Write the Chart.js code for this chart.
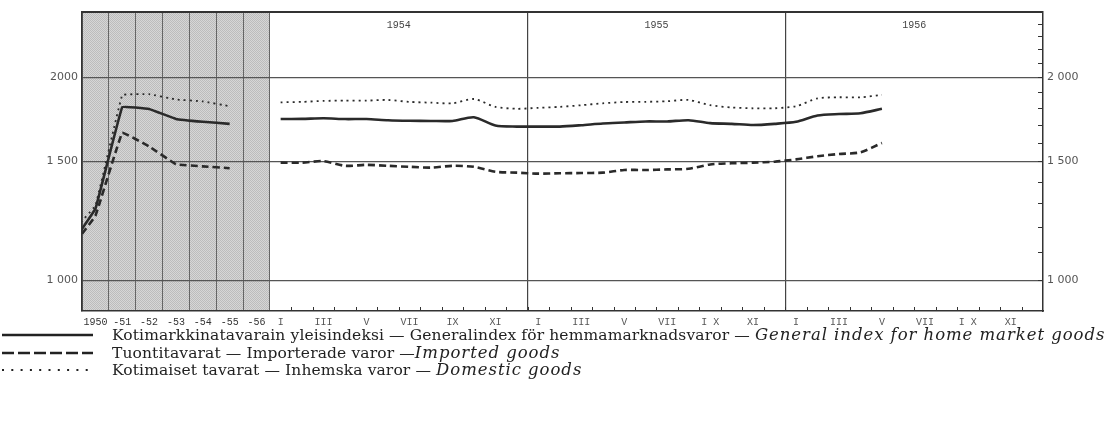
<!DOCTYPE html>
<html>
<head>
<meta charset="utf-8">
<script src="https://cdn.jsdelivr.net/npm/chart.js@4.4.0/dist/chart.umd.min.js"></script>
<style>
  body { margin: 0; background: #fff; width: 1110px; height: 425px; overflow: hidden; position: relative; }
  #wrap { position: absolute; left: 0; top: 0; width: 1110px; height: 330px; }
  #legend { position: absolute; left: 0; top: 0; font-family: "DejaVu Serif", serif; font-size: 15.5px; color: #222; }
  .row { position: absolute; left: 0; height: 18px; white-space: nowrap; }
  .row svg { position: absolute; left: 0; top: 4px; }
  .row span { position: absolute; left: 112px; top: 0; line-height: 18px; letter-spacing: 0.12px; }
  .row i { font-family: "DejaVu Serif", serif; font-size: 16.5px; letter-spacing: 0.95px; }
</style>
</head>
<body>
<div id="wrap"><canvas id="chart" width="1110" height="330"></canvas></div>
<div id="legend"></div>
<script>
// 年次データ（網掛け部分） 1949 の値は左端の線の始まりだけに使う
const annualLabels = ['1950', '-51', '-52', '-53', '-54', '-55', '-56'];
const annualYears = [1949, 1950, 1951, 1952, 1953, 1954, 1955];
const annualGeneral = [1115, 1276, 1807, 1795, 1735, 1718, 1706];
const annualImported = [1104, 1246, 1655, 1579, 1486, 1475, 1466];
const annualDomestic = [1165, 1290, 1882, 1888, 1854, 1842, 1812];

// 月次データ 1954 I – 1956 V
const yearLabels = ['1954', '1955', '1956'];
const monthTickLabels = [
  'I', '', 'III', '', 'V', '', 'VII', '', 'IX', '', 'XI', '',
  'I', '', 'III', '', 'V', '', 'VII', '', 'I X', '', 'XI', '',
  'I', '', 'III', '', 'V', '', 'VII', '', 'I X', '', 'XI', ''
];
const generalMonthly = [
  1734, 1735, 1739, 1734, 1734, 1727, 1724, 1723, 1723, 1745, 1696, 1690,
  1690, 1690, 1698, 1708, 1714, 1720, 1720, 1727, 1710, 1706, 1699, 1706,
  1718, 1755, 1764, 1769, 1796
];
const importedMonthly = [
  1494, 1494, 1502, 1478, 1483, 1478, 1473, 1469, 1478, 1473, 1448, 1444,
  1439, 1441, 1442, 1444, 1457, 1457, 1460, 1463, 1485, 1491, 1494, 1499,
  1511, 1527, 1539, 1548, 1598
];
const domesticMonthly = [
  1836, 1839, 1845, 1847, 1847, 1851, 1839, 1834, 1830, 1857, 1808, 1796,
  1802, 1808, 1818, 1830, 1838, 1839, 1843, 1851, 1818, 1804, 1799, 1799,
  1812, 1861, 1868, 1868, 1884
];

const yTickValues = [1000, 1500, 2000];
const leftTickLabels = ['1 000', '1 500', '2000'];
const rightTickLabels = ['1 000', '1 500', '2 000'];

const seriesFi = ['Kotimarkkinatavarain yleisindeksi', 'Tuontitavarat', 'Kotimaiset tavarat'];
const seriesSv = ['Generalindex för hemmamarknadsvaror', 'Importerade varor', 'Inhemska varor'];
const seriesEn = ['General index for home market goods', 'Imported goods', 'Domestic goods'];

// x 軸: 年次 1 列 = 1, 1 か月 = MONTH_W
const MONTH_W = 0.8;
const N_COLS = annualLabels.length;
const X_MAX = N_COLS + 36 * MONTH_W;
const xYear = y => (y - 1950) + 0.5;
const xMonth = i => N_COLS + (i + 0.5) * MONTH_W;

const INK = '#2a2a2a';
const styles = [
  { borderWidth: 2.6, borderDash: [] },
  { borderWidth: 2.6, borderDash: [7, 4] },
  { borderWidth: 1.8, borderDash: [2, 4] }
];

function annualSet(values, s) {
  return Object.assign({
    data: values.map((v, i) => ({ x: xYear(annualYears[i]), y: v })),
    borderColor: INK, pointRadius: 0, tension: 0.05, clip: 0, fill: false
  }, s);
}
function monthlySet(values, s) {
  return Object.assign({
    data: values.map((v, i) => ({ x: xMonth(i), y: v })),
    borderColor: INK, pointRadius: 0, tension: 0.25, clip: 0, fill: false
  }, s);
}

// x 軸の目盛り: 列の境界・ラベル位置
function buildXTicks() {
  const ticks = [];
  for (let i = 0; i <= N_COLS; i++) ticks.push({ value: i, kind: 'col' });
  annualLabels.forEach((t, i) => ticks.push({ value: i + 0.5, kind: 'lab', text: t }));
  for (let m = 1; m < 36; m++) {
    ticks.push({ value: N_COLS + m * MONTH_W, kind: m % 12 === 0 ? 'year' : 'month' });
  }
  monthTickLabels.forEach((t, m) => {
    if (t) ticks.push({ value: xMonth(m), kind: 'mlab', text: t });
  });
  ticks.sort((a, b) => a.value - b.value);
  return ticks;
}

const decor = {
  id: 'decor',
  beforeDraw(chart) {
    const { ctx, chartArea: a, scales } = chart;
    const x0 = scales.x.getPixelForValue(0);
    const x1 = scales.x.getPixelForValue(N_COLS);
    // 網掛け
    const pc = document.createElement('canvas');
    pc.width = 2; pc.height = 2;
    const p = pc.getContext('2d');
    p.fillStyle = '#d6d6d6'; p.fillRect(0, 0, 2, 2);
    p.fillStyle = '#bcbcbc'; p.fillRect(0, 0, 1, 1); p.fillRect(1, 1, 1, 1);
    ctx.save();
    ctx.fillStyle = ctx.createPattern(pc, 'repeat');
    ctx.fillRect(x0, a.top, x1 - x0, a.bottom - a.top);
    ctx.restore();
  },
  afterDraw(chart) {
    const { ctx, chartArea: a, scales } = chart;
    ctx.save();
    ctx.strokeStyle = '#333';
    // 上枠
    ctx.lineWidth = 2;
    ctx.beginPath(); ctx.moveTo(a.left, a.top); ctx.lineTo(a.right, a.top); ctx.stroke();
    // 月の目盛り（内向き）
    ctx.lineWidth = 1;
    for (let m = 1; m < 36; m++) {
      const px = Math.round(scales.x.getPixelForValue(N_COLS + m * MONTH_W)) + 0.5;
      ctx.beginPath(); ctx.moveTo(px, a.bottom); ctx.lineTo(px, a.bottom - 4); ctx.stroke();
    }
    // 右側の補助目盛り 100 ごと
    for (let v = 1000; v <= 2400; v += 100) {
      const py = Math.round(scales.y2.getPixelForValue(v)) + 0.5;
      ctx.beginPath(); ctx.moveTo(a.right, py); ctx.lineTo(a.right - 5, py); ctx.stroke();
    }
    // 年ラベル
    ctx.fillStyle = '#444';
    ctx.font = '10px "Liberation Mono", monospace';
    ctx.textAlign = 'center';
    ctx.textBaseline = 'middle';
    yearLabels.forEach((t, k) => {
      ctx.fillText(t, scales.x.getPixelForValue(N_COLS + (12 * k + 6) * MONTH_W), a.top + 13);
    });
    ctx.restore();
  }
};

const tickFont = { family: '"Liberation Mono", monospace', size: 10 };
const yFont = { family: '"DejaVu Sans", sans-serif', size: 11 };

new Chart(document.getElementById('chart'), {
  type: 'line',
  data: {
    datasets: [
      annualSet(annualGeneral, styles[0]),
      annualSet(annualImported, styles[1]),
      annualSet(annualDomestic, styles[2]),
      monthlySet(generalMonthly, styles[0]),
      monthlySet(importedMonthly, styles[1]),
      monthlySet(domesticMonthly, styles[2])
    ]
  },
  options: {
    responsive: false,
    animation: false,
    devicePixelRatio: 1,
    layout: { padding: { top: 12, left: 0, right: 0, bottom: 0 } },
    plugins: { legend: { display: false }, tooltip: { enabled: false } },
    scales: {
      x: {
        type: 'linear', min: 0, max: X_MAX,
        afterBuildTicks: s => { s.ticks = buildXTicks(); },
        afterFit: s => { s.height = 19; },
        ticks: {
          autoSkip: false, maxRotation: 0, padding: 5,
          color: c => (c.tick && c.tick.kind === 'mlab') ? '#555' : '#333',
          font: tickFont,
          callback: (v, i, ticks) => ticks[i].text || ''
        },
        grid: {
          drawTicks: false,
          color: c => {
            if (!c.tick) return 'rgba(0,0,0,0)';
            if (c.tick.kind === 'col') return '#666';
            if (c.tick.kind === 'year') return '#444';
            return 'rgba(0,0,0,0)';
          },
          lineWidth: c => (c.tick && c.tick.kind === 'year') ? 1.2 : 1
        },
        border: { display: true, color: '#333', width: 1.5 }
      },
      y: {
        type: 'logarithmic', position: 'left', min: 900, max: 2500,
        afterBuildTicks: s => { s.ticks = yTickValues.map(v => ({ value: v })); },
        afterFit: s => { s.width = 82; },
        ticks: {
          padding: 4, color: '#555', font: yFont,
          callback: (v, i) => leftTickLabels[i]
        },
        grid: { drawTicks: false, color: '#555', lineWidth: 1.2 },
        border: { display: true, color: '#333', width: 1.5 }
      },
      y2: {
        type: 'logarithmic', position: 'right', min: 900, max: 2500,
        afterBuildTicks: s => { s.ticks = yTickValues.map(v => ({ value: v })); },
        afterFit: s => { s.width = 67; },
        ticks: {
          padding: 4, color: '#555', font: yFont,
          callback: (v, i) => rightTickLabels[i]
        },
        grid: { drawOnChartArea: false, drawTicks: false },
        border: { display: true, color: '#333', width: 1.5 }
      }
    }
  },
  plugins: [decor]
});

// 凡例
const legendRows = [
  { top: 326, dash: '', width: 2.5, sep: ' — ' },
  { top: 343.5, dash: '12 4', width: 2.5, sep: ' —' },
  { top: 361, dash: '2 7.3', width: 2, sep: ' — ' }
];
const legend = document.getElementById('legend');
seriesFi.forEach((fi, i) => {
  const r = legendRows[i];
  const row = document.createElement('div');
  row.className = 'row';
  row.style.top = r.top + 'px';
  row.innerHTML =
    `<svg width="96" height="10"><line x1="2" y1="5" x2="93" y2="5" stroke="#222" stroke-width="${r.width}"` +
    (r.dash ? ` stroke-dasharray="${r.dash}"` : '') + `/></svg>` +
    `<span>${fi} — ${seriesSv[i]}${r.sep}<i>${seriesEn[i]}</i></span>`;
  legend.appendChild(row);
});
</script>
</body>
</html>
